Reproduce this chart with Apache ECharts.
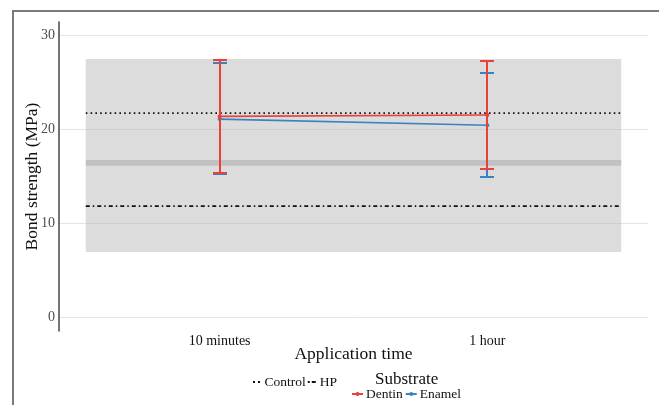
<!DOCTYPE html>
<html><head><meta charset="utf-8">
<script src="https://cdn.jsdelivr.net/npm/echarts@6/dist/echarts.min.js"></script>
<style>
html,body{margin:0;padding:0;background:#fff;}
#wrap{position:relative;width:659px;height:405px;overflow:hidden;}
#chart{position:absolute;left:0;top:0;width:659px;height:405px;}
#frame{position:absolute;left:12px;top:10px;width:700px;height:500px;border-top:2px solid #7a7a7a;border-left:2px solid #7a7a7a;pointer-events:none;}
</style></head>
<body><div id="wrap"><div id="chart"></div><div id="frame"></div></div>
<script>
// ---- data ----
const categories = ['10 minutes', '1 hour'];
const categoryPos = [1, 2];
const dentinMean = [21.35, 21.5];
const dentinLow  = [15.3, 15.7];
const dentinHigh = [27.4, 27.3];
const enamelMean = [21.06, 20.4];
const enamelLow  = [15.2, 14.9];
const enamelHigh = [27.0, 25.95];
const controlMean = 21.7;
const hpMean = 11.8;
const rangeLow = 6.9, rangeHigh = 27.45;
const bandLow = 16.1, bandHigh = 16.7;
const rangeX = [0.5, 2.5];
const yTicks = [0, 10, 20, 30];

const RED = '#e8413c', BLUE = '#3a83c1';
const FONT = '"Liberation Serif", "DejaVu Serif", serif';

function pts(arr){ return categoryPos.map((x,i)=>[x, arr[i]]); }
function ebData(low, high){ return categoryPos.map((x,i)=>[x, low[i], high[i]]); }
function ebRender(color){
  return function(params, api){
    const x = api.value(0);
    const lo = api.coord([x, api.value(1)]);
    const hi = api.coord([x, api.value(2)]);
    const cx = Math.round(lo[0]);
    const yl = Math.round(lo[1]), yh = Math.round(hi[1]);
    const w = 7;
    const st = {stroke: color, lineWidth: 2};
    return {type:'group', children:[
      {type:'line', shape:{x1:cx, y1:yl, x2:cx, y2:yh}, style:st},
      {type:'line', shape:{x1:cx-w, y1:yl, x2:cx+w, y2:yl}, style:st},
      {type:'line', shape:{x1:cx-w, y1:yh, x2:cx+w, y2:yh}, style:st}
    ]};
  };
}
const dotsIcon = 'path://M0,3h2v2h-2z M5,3h2v2h-2z M0,0h0.01v0.01h-0.01z M0,7.99h0.01v0.01h-0.01z';
const dotDashIcon = 'path://M0,3h2v2h-2z M4,3h4v2h-4z M0,0h0.01v0.01h-0.01z M0,7.99h0.01v0.01h-0.01z';

const chart = echarts.init(document.getElementById('chart'), null, {renderer:'canvas'});
chart.setOption({
  animation:false,
  backgroundColor:'#fff',
  textStyle:{fontFamily:FONT},
  grid:{left:59, right:11, top:22, bottom:74, containLabel:false},
  xAxis:{
    type:'value', min:0.4, max:2.6,
    name:'Application time', nameLocation:'middle', nameGap:23, nameMoveOverlap:false,
    nameTextStyle:{fontFamily:FONT, fontSize:17.5, color:'#111', verticalAlign:'middle'},
    axisLine:{show:false}, axisTick:{show:false}, splitLine:{show:false},
    axisLabel:{customValues:categoryPos, margin:3, fontFamily:FONT, fontSize:14, color:'#111',
      formatter:function(v){ const i = categoryPos.indexOf(v); return i>=0 ? categories[i] : ''; }}
  },
  yAxis:{
    type:'value', min:-1.5, max:31.4,
    name:'Bond strength (MPa)', nameLocation:'middle', nameGap:27, nameMoveOverlap:false,
    nameTextStyle:{fontFamily:FONT, fontSize:17.5, color:'#111', verticalAlign:'middle'},
    axisLine:{show:true, lineStyle:{color:'#444', width:1.5}},
    axisTick:{show:false, customValues:yTicks},
    axisLabel:{customValues:yTicks, margin:4, fontFamily:FONT, fontSize:14, color:'#4d4d4d'},
    splitLine:{show:true, lineStyle:{color:'#e4e4e4', width:1}}
  },
  legend:[
    {data:[{name:'Control', icon:dotsIcon},{name:'HP', icon:dotDashIcon}], left:248, top:370,
     itemWidth:8, itemHeight:8, itemGap:2,
     textStyle:{fontFamily:FONT, fontSize:13.5, color:'#111', padding:[0,0,0,-1]}},
    {data:['Dentin','Enamel'], left:346, top:382, itemWidth:11, itemHeight:5, itemGap:2,
     textStyle:{fontFamily:FONT, fontSize:13.5, color:'#111', padding:[0,0,0,-2]}}
  ],
  graphic:[{type:'text', left:375, top:371, style:{text:'Substrate', font:'17px '+FONT, fill:'#111'}}],
  series:[
    {name:'range', type:'line', data:[], silent:true, z:1,
     markArea:{silent:true, itemStyle:{color:'rgba(185,185,185,0.5)'},
       data:[[{xAxis:rangeX[0], yAxis:rangeLow},{xAxis:rangeX[1], yAxis:rangeHigh}],
             [{xAxis:rangeX[0], yAxis:bandLow, itemStyle:{color:'rgba(160,160,160,0.45)'}},{xAxis:rangeX[1], yAxis:bandHigh}]]}},
    {name:'Control', type:'line', data:rangeX.map(x=>[x, controlMean]), symbol:'none', z:2,
     lineStyle:{color:'#111', width:1.6, type:[1.6,3.2]}, itemStyle:{color:'#111'}},
    {name:'HP', type:'line', data:rangeX.map(x=>[x, hpMean]), symbol:'none', z:2,
     lineStyle:{color:'#111', width:1.6, type:[4,3,1.5,3]}, itemStyle:{color:'#111'}},
    {name:'Enamel', type:'line', data:pts(enamelMean), symbol:'circle', symbolSize:4, z:3,
     lineStyle:{color:BLUE, width:1.6}, itemStyle:{color:BLUE}},
    {name:'Enamel', type:'custom', data:ebData(enamelLow, enamelHigh), renderItem:ebRender(BLUE), z:3},
    {name:'Dentin', type:'line', data:pts(dentinMean), symbol:'circle', symbolSize:4, z:4,
     lineStyle:{color:RED, width:1.6}, itemStyle:{color:RED}},
    {name:'Dentin', type:'custom', data:ebData(dentinLow, dentinHigh), renderItem:ebRender(RED), z:4}
  ]
});
</script></body></html>
